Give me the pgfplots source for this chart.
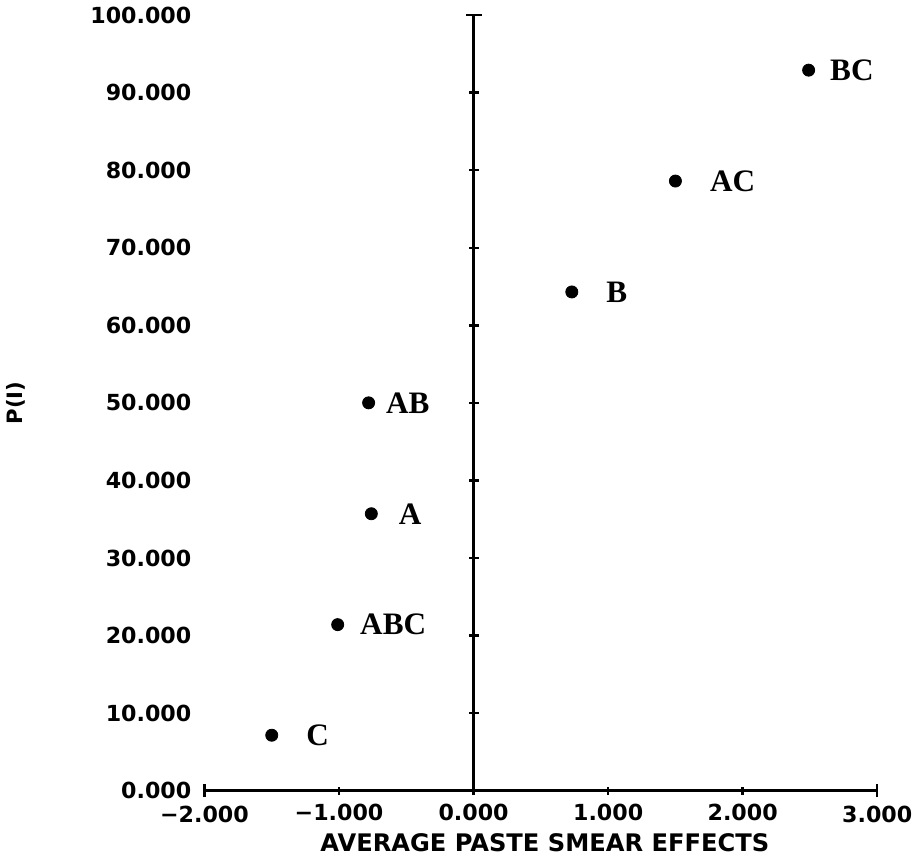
\documentclass[border=0pt]{standalone}
\usepackage{pgfplots}
\pgfplotsset{compat=1.18}
\usepackage{fontspec}
\setmainfont{Liberation Serif}
\newfontfamily\plotfont{DejaVu Sans}
\begin{document}
\begin{tikzpicture}
\begin{axis}[
  scale only axis, width=334pt, height=385pt,
  xmin=-2, xmax=3, ymin=0, ymax=100,
  clip=false,
  axis x line*=bottom, axis y line*=left,
  y axis line style={draw=none},
  x axis line style={line width=1.2pt, -},
  xtick={-1,0,1,2},
  xticklabels={−1.000,0.000,1.000,2.000},
  extra x ticks={-2,3},
  extra x tick labels={−2.000,3.000},
  extra x tick style={major tick length=6.5pt},
  ytick={0,10,...,100},
  yticklabels={0.000,10.000,20.000,30.000,40.000,50.000,60.000,70.000,80.000,90.000,100.000},
  tick align=center, major tick length=4pt,
  xtick style={line width=1.2pt, black},
  ytick style={draw=none},
  tick label style={font=\plotfont\bfseries\fontsize{11}{12}\selectfont},
  xticklabel style={yshift=-1pt},
  yticklabel style={xshift=-1pt},
  xlabel={AVERAGE PASTE SMEAR EFFECTS},
  ylabel={P(I)},
  xlabel style={at={(axis description cs:0.5,0)}, anchor=center, yshift=-26pt, xshift=2pt, font=\plotfont\bfseries\fontsize{12}{13}\selectfont},
  ylabel style={at={(axis description cs:0,0.5)}, anchor=center, yshift=93.5pt, font=\plotfont\bfseries\fontsize{10.5}{12}\selectfont},
]
% vertical axis at x = 0 with tick marks
\addplot[line width=1.2pt, black, mark=-, mark size=2.5pt, mark options={line width=1.2pt}]
  coordinates {(0,0) (0,10) (0,20) (0,30) (0,40) (0,50) (0,60) (0,70) (0,80) (0,90) (0,100)};
\addplot[only marks, black, mark=-, mark size=4pt, mark options={line width=1.2pt}]
  coordinates {(0,100)};
% effects
\addplot[only marks, black, mark=*, mark size=3pt,
  nodes near coords, point meta=explicit symbolic,
  visualization depends on={value \thisrow{dx} \as \dx},
  every node near coord/.append style={anchor=west, xshift=\dx pt, inner sep=0pt,
    font=\bfseries\fontsize{15.5}{17}\selectfont}]
  table[x=x, y=y, meta=label] {
x y label dx
-1.50 7.14 C 17
-1.01 21.4 ABC 11
-0.76 35.7 A 13.5
-0.78 50.0 AB 8.5
0.73 64.3 B 17
1.50 78.6 AC 17
2.49 92.9 BC 10.5
};
\end{axis}
\end{tikzpicture}
\end{document}
